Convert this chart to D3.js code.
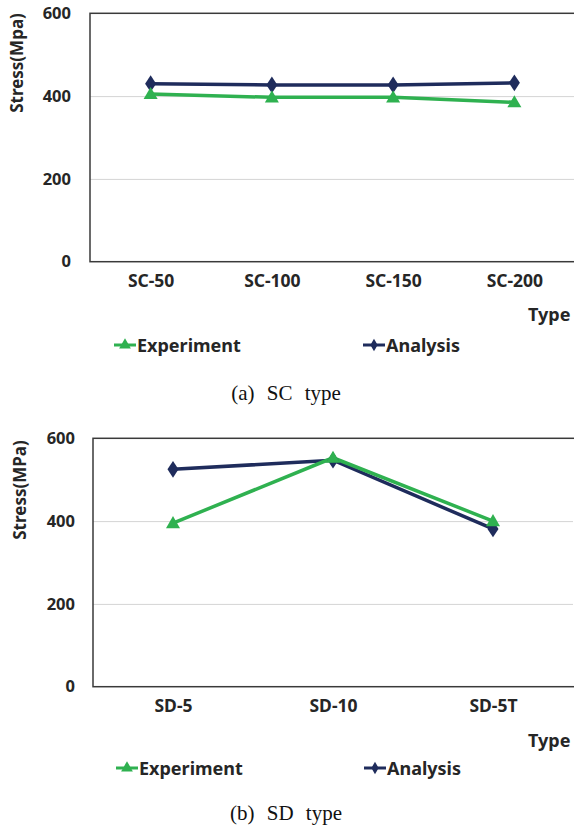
<!DOCTYPE html>
<html>
<head>
<meta charset="utf-8">
<script src="https://cdn.jsdelivr.net/npm/d3@7"></script>
<style>
  html, body { margin: 0; padding: 0; background: #fff; }
  svg { display: block; }
</style>
</head>
<body>
<svg id="chart" width="574" height="831"></svg>
<script>
// ---- data ----
const scCategories = ["SC-50", "SC-100", "SC-150", "SC-200"];
const scExperiment = [405, 397, 397, 385];
const scAnalysis   = [430, 427, 427, 432];

const sdCategories = ["SD-5", "SD-10", "SD-5T"];
const sdExperiment = [395, 553, 400];
const sdAnalysis   = [525, 547, 381];

const yTicks = [0, 200, 400, 600];
const seriesNames = ["Experiment", "Analysis"];

// ---- styles ----
const GREEN = "#2fb150";
const NAVY = "#1f2c5c";
const TEXT = "#262626";
const SANS = "'Noto Sans', sans-serif";
const SERIF = "'Liberation Serif', 'Times New Roman', serif";

const svg = d3.select("#chart");

const panels = [
  { cats: scCategories, exp: scExperiment, ana: scAnalysis, yTitle: "Stress(Mpa)", caption: "(a) SC type",
    left: 90, right: 575, top: 13.3, bottom: 261.7, tickRight: 71, yTitleX: 17, yTitleY: 63,
    xLabelY: 287, typeY: 314, legendY: 345, captionY: 400,
    legExpX: 114, legAnaX: 363 },
  { cats: sdCategories, exp: sdExperiment, ana: sdAnalysis, yTitle: "Stress(MPa)", caption: "(b) SD type",
    left: 93, right: 573, top: 438.3, bottom: 686.7, tickRight: 75, yTitleX: 20, yTitleY: 490,
    xLabelY: 712, typeY: 740, legendY: 768, captionY: 820,
    legExpX: 116, legAnaX: 364 }
];

const tri = d3.symbol().type(d3.symbolTriangle).size(85);
const dia = d3.symbol().type(d3.symbolDiamond).size(80);

panels.forEach(p => {
  const g = svg.append("g");
  const x = d3.scalePoint().domain(p.cats).range([p.left, p.right]).padding(0.5);
  const y = d3.scaleLinear().domain([0, 600]).range([p.bottom, p.top]);

  // gridlines
  g.append("g")
    .attr("transform", `translate(${p.left},0)`)
    .call(d3.axisLeft(y).tickValues([200, 400]).tickSize(-(p.right - p.left)).tickFormat(""))
    .call(a => a.select(".domain").remove())
    .call(a => a.selectAll("line").attr("stroke", "#d4d4d4").attr("stroke-width", 1));

  // frame
  g.append("rect")
    .attr("x", p.left).attr("y", p.top)
    .attr("width", p.right - p.left + 10).attr("height", p.bottom - p.top)
    .attr("fill", "none").attr("stroke", "#3a3a3a").attr("stroke-width", 1.5);

  // y tick labels
  g.append("g")
    .attr("transform", `translate(${p.tickRight},0)`)
    .call(d3.axisLeft(y).tickValues(yTicks).tickSize(0).tickPadding(0))
    .call(a => a.select(".domain").remove())
    .call(a => a.selectAll("text")
      .style("font-family", SANS)
      .style("font-size", "16.5px").style("font-weight", "bold").attr("fill", TEXT));

  // x tick labels
  g.append("g")
    .attr("transform", `translate(0,${p.xLabelY - 12})`)
    .call(d3.axisBottom(x).tickSize(0).tickPadding(0))
    .call(a => a.select(".domain").remove())
    .call(a => a.selectAll("text")
      .style("font-family", SANS)
      .style("font-size", "17.5px").style("font-weight", "bold").attr("fill", TEXT));

  // y title
  g.append("text")
    .attr("transform", `translate(${p.yTitleX + 6},${p.yTitleY}) rotate(-90)`)
    .attr("text-anchor", "middle")
    .style("font-family", SANS)
    .style("font-size", "17px").style("font-weight", "bold").attr("fill", TEXT)
    .text(p.yTitle);

  // x title
  g.append("text")
    .attr("x", 528).attr("y", p.typeY + 7)
    .style("font-family", SANS)
    .style("font-size", "18px").style("font-weight", "bold").attr("fill", TEXT)
    .text("Type");

  // lines
  const line = d3.line().x((d, i) => x(p.cats[i])).y(d => y(d));
  g.append("path").datum(p.ana).attr("d", line)
    .attr("fill", "none").attr("stroke", NAVY).attr("stroke-width", 3.5);
  g.append("path").datum(p.exp).attr("d", line)
    .attr("fill", "none").attr("stroke", GREEN).attr("stroke-width", 3.5);

  // markers
  g.selectAll(".ana").data(p.ana).enter().append("path")
    .attr("d", dia).attr("fill", NAVY)
    .attr("transform", (d, i) => `translate(${x(p.cats[i])},${y(d)}) scale(1.15,1)`);
  g.selectAll(".exp").data(p.exp).enter().append("path")
    .attr("d", tri).attr("fill", GREEN)
    .attr("transform", (d, i) => `translate(${x(p.cats[i])},${y(d) + 1})`);

  // legend
  const legend = [
    { name: seriesNames[0], color: GREEN, sym: d3.symbol().type(d3.symbolTriangle).size(60), x: p.legExpX },
    { name: seriesNames[1], color: NAVY, sym: d3.symbol().type(d3.symbolDiamond).size(45), x: p.legAnaX }
  ];
  legend.forEach(l => {
    const lg = g.append("g").attr("transform", `translate(${l.x},${p.legendY})`);
    lg.append("line").attr("x1", 0).attr("x2", 22).attr("y1", 0).attr("y2", 0)
      .attr("stroke", l.color).attr("stroke-width", 3);
    lg.append("path").attr("d", l.sym).attr("fill", l.color).attr("transform", "translate(11,0)");
    lg.append("text").attr("x", 23).attr("y", 6.5)
      .style("font-family", SANS)
      .style("font-size", "18px").style("font-weight", "bold").attr("fill", TEXT)
      .text(l.name);
  });

  // caption
  g.append("text")
    .attr("x", 286).attr("y", p.captionY)
    .attr("text-anchor", "middle")
    .style("font-family", SERIF)
    .style("font-size", "21px").style("word-spacing", "7px").attr("fill", "#111")
    .text(p.caption);
});
</script>
</body>
</html>
